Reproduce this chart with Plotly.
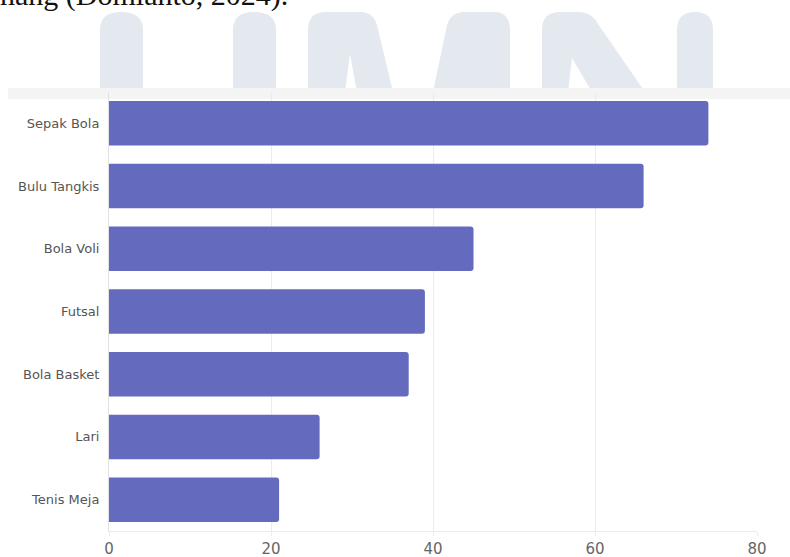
import plotly.graph_objects as go

categories = ["Sepak Bola", "Bulu Tangkis", "Bola Voli", "Futsal", "Bola Basket", "Lari", "Tenis Meja"]
values = [74, 66, 45, 39, 37, 26, 21]
x_ticks = [0, 20, 40, 60, 80]
header_text = "nang (Domianto, 2024)."

W, H = 790, 557
L, R, T, B = 109, 33, 92, 26
PW, PH = W - L - R, H - T - B


def px(x):
    return (x - L) / PW


def py(y):
    return 1 - (y - T) / PH


def path(points):
    out = []
    for cmd, *coords in points:
        pairs = [f"{px(coords[i]):.5f},{py(coords[i+1]):.5f}" for i in range(0, len(coords), 2)]
        out.append(cmd + " " + " ".join(pairs))
    return " ".join(out) + " Z"


wm = "#e4e8ef"
watermark = [
    [("M", 100, 92), ("L", 100, 30), ("Q", 100, 12, 121, 12), ("Q", 143, 12, 143, 30), ("L", 143, 92)],
    [("M", 233, 92), ("L", 233, 30), ("Q", 233, 12, 254, 12), ("Q", 276, 12, 276, 30), ("L", 276, 92)],
    [("M", 308, 92), ("L", 308, 30), ("Q", 308, 12, 326, 12), ("L", 360, 12), ("Q", 373, 12, 377, 25), ("L", 393, 92)],
    [("M", 433, 92), ("L", 447, 25), ("Q", 451, 12, 465, 12), ("L", 494, 12), ("Q", 510, 12, 510, 30), ("L", 510, 92)],
    [("M", 542, 92), ("L", 542, 30), ("Q", 542, 12, 560, 12), ("L", 578, 12), ("Q", 592, 12, 598, 24), ("L", 645, 92)],
    [("M", 677, 92), ("L", 677, 30), ("Q", 677, 12, 695, 12), ("Q", 713, 12, 713, 30), ("L", 713, 92)],
]
notches = [
    [("M", 345, 92), ("L", 350, 54), ("L", 357, 92)],
    [("M", 568, 92), ("L", 572, 58), ("L", 592, 92)],
]

shapes = []
for p in watermark:
    shapes.append(dict(type="path", xref="paper", yref="paper", path=path(p),
                       fillcolor=wm, line=dict(width=0), layer="below"))
for p in notches:
    shapes.append(dict(type="path", xref="paper", yref="paper", path=path(p),
                       fillcolor="white", line=dict(width=0), layer="below"))
shapes.append(dict(type="rect", xref="paper", yref="paper", x0=px(8), x1=px(790), y0=py(99), y1=py(88),
                   fillcolor="#f4f4f4", line=dict(width=0), layer="below"))

fig = go.Figure(go.Bar(
    x=values, y=categories, orientation="h",
    marker=dict(color="#646bbf", line=dict(width=0)),
    width=0.71,
))

fig.update_layout(
    width=W, height=H,
    margin=dict(l=L, r=R, t=T, b=B, pad=0, autoexpand=False),
    paper_bgcolor="white", plot_bgcolor="rgba(0,0,0,0)",
    barcornerradius=3,
    showlegend=False,
    shapes=shapes,
    font=dict(family="DejaVu Sans", color="#555555"),
    annotations=[dict(
        text=header_text, xref="paper", yref="paper",
        x=px(-2), y=py(-5), xanchor="left", yanchor="middle",
        showarrow=False, font=dict(family="Liberation Serif", size=30, color="#111111"),
    )],
)
fig.update_xaxes(
    range=[0, 80], tickvals=x_ticks, ticktext=[str(v) for v in x_ticks],
    showgrid=True, gridcolor="#ececec", gridwidth=1, zeroline=False,
    showline=True, linecolor="#ebebeb", linewidth=1,
    ticks="outside", ticklen=4, tickcolor="#ececec",
    tickfont=dict(size=15, color="#666666", family="DejaVu Sans"),
    fixedrange=True, automargin=False,
)
fig.update_yaxes(
    autorange="reversed", showgrid=False, zeroline=False,
    showline=True, linecolor="#e2e2e6", linewidth=1,
    ticks="", ticklabelstandoff=6,
    tickfont=dict(size=13, color="#555555", family="DejaVu Sans"),
    fixedrange=True, automargin=False,
)

fig.write_html(
    "out.html",
    config={"displayModeBar": False},
    post_script="document.body.style.margin='0px';document.body.style.overflow='hidden';",
)
